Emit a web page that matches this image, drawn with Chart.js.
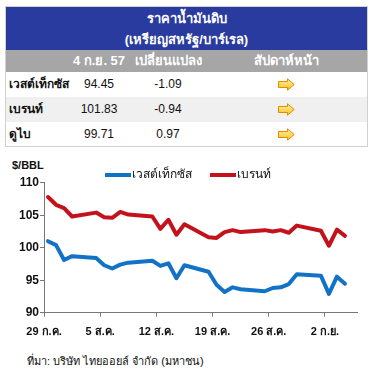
<!DOCTYPE html>
<html>
<head>
<meta charset="utf-8">
<script src="https://cdn.jsdelivr.net/npm/chart.js@4/dist/chart.umd.min.js"></script>
<style>
body { margin: 0; width: 372px; height: 369px; background: #fff; position: relative; overflow: hidden;
       font-family: "Liberation Sans", Arial, "Noto Sans", "DejaVu Sans", sans-serif; color: #111; }
#tbl { position: absolute; left: 5px; top: 6px; width: 361px; height: 139px; border: 1px solid #d0d0d0; }
#title { height: 43px; background: #293b9e; color: #fff; font-weight: bold; font-size: 13px; text-align: center; }
#title div { height: 21px; line-height: 23px; }
.row { position: relative; height: 25px; }
.row span { position: absolute; top: 0; line-height: 25px; font-size: 12px; white-space: nowrap; }
#head { height: 22px; background: #a6a6a6; color: #fff; font-weight: bold; font-size: 13px; }
#head span { line-height: 22px; font-size: 13px; }
.c0 { left: 3px; font-weight: bold; }
.c1 { left: 58px; width: 70px; text-align: center; }
.c2 { left: 129px; width: 66px; text-align: center; }
.c3 { left: 240px; width: 80px; text-align: center; }
.alt { background: #f0f0f0; }
#unit { position: absolute; left: 12px; top: 159px; font-size: 11px; font-weight: bold; }
#src { position: absolute; left: 27px; top: 352px; font-size: 11px; }
#wrap { position: absolute; left: 0; top: 155px; width: 372px; height: 190px; }
</style>
</head>
<body>
<div id="tbl">
  <div id="title"><div>ราคาน้ำมันดิบ</div><div>(เหรียญสหรัฐ/บาร์เรล)</div></div>
  <div id="head" class="row"></div>
  <div id="rows"></div>
</div>
<div id="unit">$/BBL</div>
<div id="wrap"><canvas id="oilChart"></canvas></div>
<div id="src">ที่มา: บริษัท ไทยออยล์ จำกัด (มหาชน)</div>

<script>
// table
const headLabels = ['', '4 ก.ย. 57', 'เปลี่ยนแปลง', 'สัปดาห์หน้า'];
const crudeNames = ['เวสต์เท็กซัส', 'เบรนท์', 'ดูไบ'];
const lastPrices = ['94.45', '101.83', '99.71'];
const priceChanges = ['-1.09', '-0.94', '0.97'];

// chart (days counted from 29 Jul, trading days only)
const seriesNames = ['เวสต์เท็กซัส', 'เบรนท์'];
const dayIndex = [0, 1, 2, 3, 6, 7, 8, 9, 10, 13, 14, 15, 16, 17, 20, 21, 22, 23, 24, 27, 28, 29, 30, 31, 34, 35, 36, 37];
const wtiPrices = [101.0, 100.4, 98.1, 98.7, 98.4, 97.3, 96.8, 97.4, 97.7, 98.0, 97.2, 97.6, 95.3, 97.3,
                   96.3, 94.3, 93.2, 93.9, 93.6, 93.3, 93.8, 93.9, 94.4, 95.9, 95.7, 92.9, 95.54, 94.45];
const brentPrices = [107.8, 106.6, 106.1, 104.8, 105.4, 104.7, 104.6, 105.5, 105.1, 104.8, 102.9, 104.3, 102.0, 103.6,
                     101.6, 101.5, 102.4, 102.7, 102.4, 102.7, 102.5, 102.7, 102.3, 103.4, 102.6, 100.3, 102.77, 101.83];
const tickDays = [0, 7, 14, 21, 28, 35];
const tickLabels = ['29 ก.ค.', '5 ส.ค.', '12 ส.ค.', '19 ส.ค.', '26 ส.ค.', '2 ก.ย.'];

const blue = '#1273c6';
const red = '#c4121c';

const arrowSvg = '<svg width="17" height="13" viewBox="0 0 17 13" style="vertical-align:middle">' +
  '<defs><linearGradient id="g" x1="0" y1="0" x2="0" y2="1"><stop offset="0" stop-color="#fff1a8"/><stop offset="1" stop-color="#f7c21c"/></linearGradient></defs>' +
  '<path d="M0.5 3.5 H9.5 V0.8 L16.2 6.5 L9.5 12.2 V9.5 H0.5 Z" fill="url(#g)" stroke="#e58a00" stroke-width="1"/></svg>';

document.getElementById('head').innerHTML = headLabels.map((t, i) => '<span class="c' + i + '">' + t + '</span>').join('');
document.getElementById('rows').innerHTML = crudeNames.map((n, i) =>
  '<div class="row' + (i === 1 ? ' alt' : '') + '">' +
  '<span class="c0">' + n + '</span><span class="c1">' + lastPrices[i] + '</span>' +
  '<span class="c2">' + priceChanges[i] + '</span><span class="c3">' + arrowSvg + '</span></div>').join('');

// simple legend drawn above the plot
const legendLines = {
  id: 'legendLines',
  afterDraw(chart) {
    const ctx = chart.ctx;
    ctx.save();
    ctx.font = '12px "Liberation Sans", Arial, sans-serif';
    ctx.textBaseline = 'middle';
    let x = 105;
    chart.data.datasets.forEach(ds => {
      ctx.fillStyle = ds.borderColor;
      ctx.fillRect(x, 18, 26, 4);
      ctx.fillStyle = '#111';
      ctx.fillText(ds.label, x + 27, 20);
      x += 27 + ctx.measureText(ds.label).width + 18;
    });
    ctx.restore();
  }
};

const tickFont = { family: '"Liberation Sans", Arial, sans-serif', size: 12, weight: 'bold' };

new Chart(document.getElementById('oilChart'), {
  type: 'line',
  data: {
    datasets: [
      { label: seriesNames[0], data: dayIndex.map((d, i) => ({ x: d + 0.5, y: wtiPrices[i] })),
        borderColor: blue, backgroundColor: blue },
      { label: seriesNames[1], data: dayIndex.map((d, i) => ({ x: d + 0.5, y: brentPrices[i] })),
        borderColor: red, backgroundColor: red }
    ]
  },
  options: {
    responsive: true,
    maintainAspectRatio: false,
    animation: false,
    layout: { padding: { top: 27.7, right: 15, left: 0, bottom: 0 } },
    elements: {
      line: { borderWidth: 4, tension: 0, borderJoinStyle: 'round', borderCapStyle: 'round' },
      point: { radius: 0 }
    },
    plugins: { legend: { display: false }, tooltip: { enabled: false } },
    scales: {
      x: {
        type: 'linear', min: 0, max: 39,
        afterBuildTicks: s => { s.ticks = tickDays.map(v => ({ value: v })); },
        afterFit: s => { s.height = 32.3; },
        ticks: { color: '#111', font: { ...tickFont, size: 11 }, padding: 9, maxRotation: 0, autoSkip: false,
                 callback: (v, i) => tickLabels[i] },
        grid: { drawOnChartArea: false, tickLength: 4, color: '#777' },
        border: { color: '#777', width: 1 }
      },
      y: {
        min: 90, max: 110,
        afterFit: s => { s.width = 44; },
        ticks: { stepSize: 5, color: '#111', font: tickFont, padding: 1 },
        grid: { drawOnChartArea: false, tickLength: 4, color: '#777' },
        border: { color: '#777', width: 1 }
      }
    }
  },
  plugins: [legendLines]
});
</script>
</body>
</html>
